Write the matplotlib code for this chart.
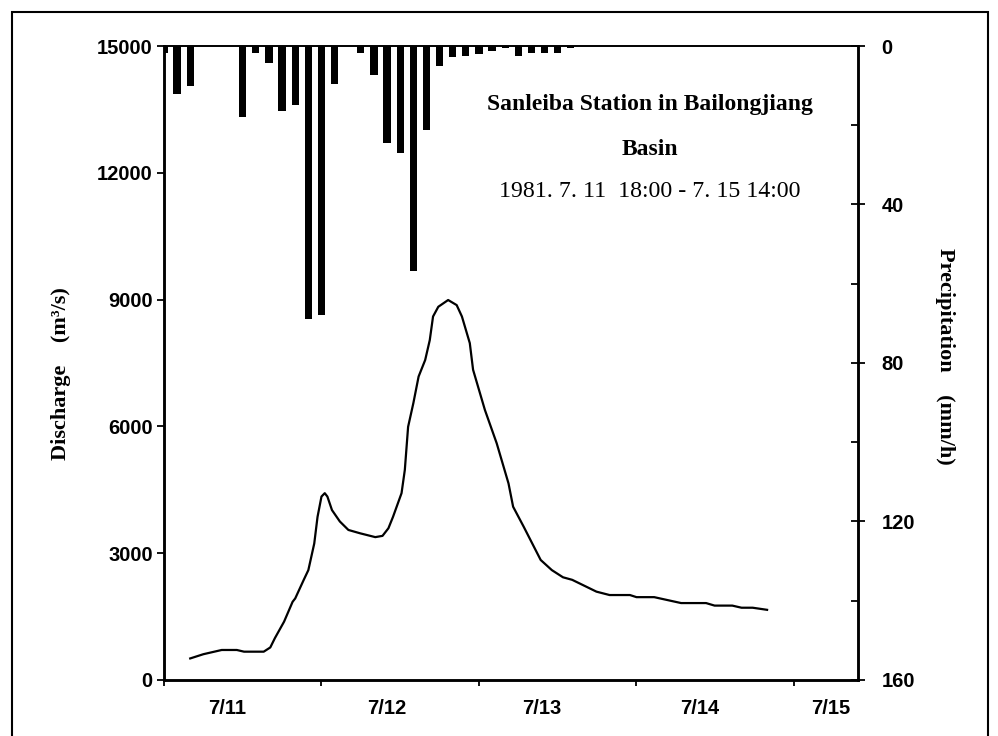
import numpy as np
import matplotlib
matplotlib.use("Agg")
import matplotlib.pyplot as plt
from matplotlib.patches import Rectangle

# Discharge hydrograph (hours from the left edge of the axis, m3/s)
flow_hours = [4.0, 6.0, 8.8, 11.1, 12.2, 15.2, 16.2, 16.9, 18.3, 19.6, 20.0, 21.3, 22.0,
              22.9, 23.4, 24.0, 24.5, 24.9, 25.6, 26.8, 28.1, 29.9, 32.2, 33.3, 34.2,
              34.9, 36.2, 36.7, 37.2, 38.0, 38.8, 39.8, 40.5, 41.0, 41.8, 43.3, 44.6,
              45.4, 46.6, 47.1, 48.9, 50.7, 52.5, 53.2, 54.8, 57.4, 59.1, 60.8, 62.2,
              65.9, 67.9, 71.0, 72.0, 74.7, 78.8, 82.6, 83.9, 86.6, 88.0, 89.7, 91.9]
flow = [510, 610, 710, 710, 670, 670, 770, 990, 1380, 1850, 1930, 2370, 2600,
        3230, 3860, 4340, 4420, 4340, 4020, 3750, 3550, 3470, 3380, 3410, 3590,
        3860, 4420, 4970, 5990, 6550, 7180, 7570, 8040, 8600, 8830, 8990, 8870,
        8600, 7970, 7340, 6390, 5600, 4650, 4100, 3630, 2840, 2600, 2430, 2370,
        2090, 2010, 2010, 1960, 1960, 1820, 1820, 1760, 1760, 1710, 1710, 1660]

# Precipitation, 2-hour blocks (mm/h)
rain_hours = np.arange(0, 64, 2)
rain = [1.7, 12.2, 10.2, 0, 0, 0, 17.8, 1.7, 4.2, 16.3, 14.8, 69.0, 68.0, 9.7, 0, 1.7,
        7.2, 24.4, 27.0, 56.7, 21.3, 5.0, 2.7, 2.5, 2.1, 1.2, 0.6, 2.5, 1.7, 1.7, 1.7, 0.4]

day_ticks = [0, 24, 48, 72, 96]
day_labels = ["7/11", "7/12", "7/13", "7/14", "7/15"]
day_label_pos = [9.6, 34.0, 57.6, 81.6, 101.6]

q_ticks = [0, 3000, 6000, 9000, 12000, 15000]
p_ticks = [0, 40, 80, 120, 160]
p_minor = [20, 60, 100, 140]

plt.rcParams["font.family"] = ["Liberation Sans", "DejaVu Sans"]
plt.rcParams["font.weight"] = "bold"

fig = plt.figure(figsize=(9.98, 7.36), dpi=100)
ax = fig.add_axes([0.1643, 0.0761, 0.6954, 0.8614])
ax2 = ax.twinx()

ax.plot(flow_hours, flow, color="black", lw=1.6)
ax.set_xlim(0, 105.75)
ax.set_ylim(0, 15000)
ax.set_yticks(q_ticks)
ax.set_yticklabels([str(v) for v in q_ticks])

ax.set_xticks(day_ticks)
ax.set_xticklabels([])
ax.set_xticks(day_label_pos, minor=True)
ax.set_xticklabels(day_labels, minor=True)

ax2.bar(rain_hours, rain, width=1.1, color="black")
ax2.set_ylim(160, 0)
ax2.set_yticks(p_ticks)
ax2.set_yticks(p_minor, minor=True)

for s in ["left", "bottom", "right"]:
    ax.spines[s].set_linewidth(1.8)
    ax2.spines[s].set_linewidth(1.8)
ax.spines["top"].set_linewidth(1.2)
ax2.spines["top"].set_linewidth(1.2)

ax.tick_params(axis="y", direction="out", length=5, width=1.3, pad=3, labelsize=14.5)
ax.tick_params(axis="x", which="major", direction="out", length=4, width=1.3)
ax.tick_params(axis="x", which="minor", length=0, pad=14, labelsize=14.5)
ax2.tick_params(axis="y", which="major", direction="inout", length=10, width=1.3,
                pad=12, labelsize=14.5)
ax2.tick_params(axis="y", which="minor", direction="in", length=5, width=1.3)

serif = ["Liberation Serif", "DejaVu Serif"]
fig.text(61 / 998, 1 - 374 / 736, "Discharge    (m\u00b3/s)", rotation=90,
         ha="center", va="center", fontsize=16, fontweight="bold", family=serif)
fig.text(945 / 998, 1 - 356 / 736, "Precipitation    (mm/h)", rotation=270,
         ha="center", va="center", fontsize=16, fontweight="bold", family=serif)

ax.text(0.700, 0.907, "Sanleiba Station in Bailongjiang", transform=ax.transAxes,
        ha="center", va="center", fontsize=17, fontweight="bold", family=serif)
ax.text(0.700, 0.836, "Basin", transform=ax.transAxes,
        ha="center", va="center", fontsize=17, fontweight="bold", family=serif)
ax.text(0.700, 0.770, "1981. 7. 11  18:00 - 7. 15 14:00", transform=ax.transAxes,
        ha="center", va="center", fontsize=17.2, fontweight="normal", family=serif)

# outer frame
fig.patches.append(Rectangle((12 / 998, -0.01), 976 / 998, 1 - 12 / 736 + 0.01,
                             transform=fig.transFigure, fill=False,
                             edgecolor="black", lw=1.5))

fig.savefig("out.png", dpi=100)
